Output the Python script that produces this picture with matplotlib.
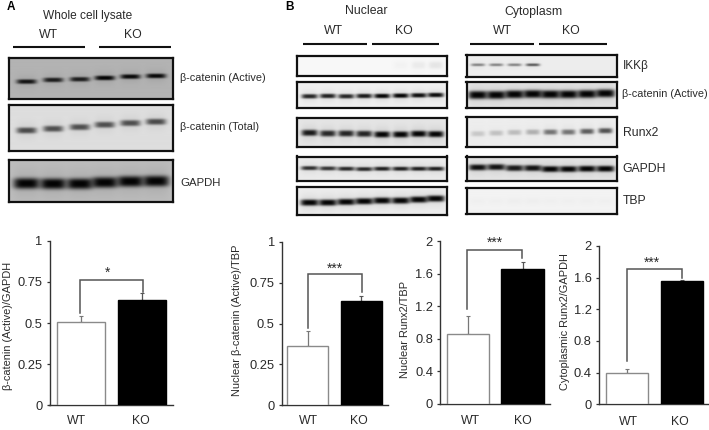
import numpy as np
import matplotlib
matplotlib.use("Agg")
import matplotlib.pyplot as plt

plt.rcParams['font.family'] = ['Liberation Sans', 'DejaVu Sans']
W, H = 709, 430
TXT = '#2a2a2a'

# ---------- bar chart data ----------
groups = ['WT', 'KO']
active_gapdh = [0.505, 0.64]
active_gapdh_err = [0.035, 0.04]
nuc_active_tbp = [0.365, 0.64]
nuc_active_tbp_err = [0.09, 0.03]
nuc_runx_tbp = [0.865, 1.665]
nuc_runx_tbp_err = [0.215, 0.075]
cyt_runx_gapdh = [0.39, 1.56]
cyt_runx_gapdh_err = [0.055, 0.015]
ticks_quarter = [0, 0.25, 0.5, 0.75, 1]
ticklabels_quarter = ['0', '0.25', '0.5', '0.75', '1']
ticks_runx = [0, 0.4, 0.8, 1.2, 1.6, 2]
ticklabels_runx = ['0', '0.4', '0.8', '1.2', '1.6', '2']

# ---------- blot band intensities (0 = none, 1 = black) ----------
a_active = [0.9, 0.85, 0.85, 1, 0.97, 0.97]
a_total = [0.66, 0.64, 0.64, 0.64, 0.64, 0.66]
a_gapdh = [1, 1, 1, 1, 1, 1]
n_ikk = [0, 0, 0, 0, 0, 0.02, 0.05, 0.07]
n_active = [0.85, 0.87, 0.85, 0.9, 1, 1, 0.95, 0.97]
n_runx = [0.9, 0.83, 0.85, 0.85, 1, 1, 1, 1]
n_gapdh = [0.8, 0.77, 0.83, 0.83, 0.87, 0.87, 0.87, 0.87]
n_tbp = [1, 1, 1, 1, 1, 1, 1, 1]
c_ikk = [0.42, 0.42, 0.42, 0.6, 0, 0, 0, 0]
c_active = [1, 1, 1, 1, 1, 1, 1, 1]
c_runx = [0.15, 0.18, 0.2, 0.25, 0.5, 0.5, 0.6, 0.65]
c_gapdh = [0.95, 0.93, 0.9, 0.93, 1, 1, 1, 1]
c_tbp = [0.01, 0.01, 0.015, 0.015, 0.01, 0.01, 0.01, 0.01]

fig = plt.figure(figsize=(W / 100, H / 100), dpi=100, facecolor='white')


def px_axes(l, t, r, b, **kw):
    return fig.add_axes([l / W, 1 - b / H, (r - l) / W, (b - t) / H], **kw)


over = px_axes(0, 0, W, H, zorder=5)
over.set_xlim(0, W)
over.set_ylim(H, 0)
over.axis('off')
over.patch.set_alpha(0)


def blot(box, strengths, lanes, rows, thick, width, bg, lw=1.6):
    l, t, r, b = box
    ax = px_axes(l, t, r, b)
    nx, ny = int((r - l) * 3), int((b - t) * 3)
    xs = np.linspace(l, r, nx)[None, :]
    ys = np.linspace(t, b, ny)[:, None]
    img = np.full((ny, nx), bg, dtype=float)
    for s, cx, cy in zip(strengths, lanes, rows):
        gx = np.exp(-np.abs((xs - cx) / (width / 2)) ** 4)
        gy = np.exp(-np.abs((ys - cy) / (thick * 0.6)) ** 3)
        hy = np.exp(-np.abs((ys - cy) / (thick * 1.6)) ** 2)
        img *= 1 - np.clip(s * gx * gy, 0, 1) * 0.98
        img *= 1 - 0.08 * s * gx * hy
    ax.imshow(img, cmap='gray', vmin=0, vmax=1, aspect='auto',
              extent=(l, r, b, t), interpolation='bilinear')
    ax.set_xticks([])
    ax.set_yticks([])
    for s in ax.spines.values():
        s.set_linewidth(lw)
        s.set_color('#111111')


def z(vals, off=0):
    return [off + v / 3 for v in vals]


# ---- Panel A blots ----
a_lanes = z([78, 158, 238, 313, 390, 467])
blot((8.5, 58, 172.5, 98.5), a_active, a_lanes, z([247, 242, 240, 236, 232, 230]), 3.8, 20, 0.70)
blot((8.5, 104.5, 172.5, 151), a_total, a_lanes, z([392, 387, 382, 375, 370, 366]), 5.0, 20, 0.87)
blot((8.5, 159.5, 172.5, 202), a_gapdh, a_lanes, z([551, 552, 552, 548, 545, 544]), 9.0, 26, 0.74)

# ---- Panel B blots ----
nl = z([72, 127, 182, 236, 290, 346, 400, 451], 285)
cl = z([577, 632, 687, 742, 795, 849, 905, 960], 285)
nx = (296.5, 446.5)
cx = (466.5, 616.5)
blot((nx[0], 55.5, nx[1], 75.5), n_ikk, nl, z([197] * 8), 6, 14, 0.97)
blot((nx[0], 82, nx[1], 108), n_active, nl, z([289, 288, 289, 288, 288, 287, 286, 285]), 3.8, 16, 0.94)
blot((nx[0], 117.5, nx[1], 146.5), n_runx, nl, z([400, 402, 402, 403, 405, 405, 403, 404]), 5.2, 16, 0.90)
blot((nx[0], 156.5, nx[1], 181), n_gapdh, nl, z([505, 506, 507, 508, 507, 507, 507, 507]), 3.4, 17, 0.92)
blot((nx[0], 187, nx[1], 214.5), n_tbp, nl, z([610, 610, 608, 606, 604, 604, 601, 598]), 5.2, 18, 0.93)

blot((cx[0], 54.5, cx[1], 76.5), c_ikk, cl, z([196] * 8), 2.4, 14, 0.93)
blot((cx[0], 82, cx[1], 108), c_active, cl, z([285, 285, 283, 282, 283, 283, 282, 280]), 6.8, 19, 0.90)
blot((cx[0], 116.5, cx[1], 147), c_runx, cl, z([402, 400, 398, 397, 397, 397, 395, 393]), 4.4, 14, 0.93)
blot((cx[0], 156.5, cx[1], 181), c_gapdh, cl, z([503, 502, 505, 505, 508, 508, 507, 507]), 5.0, 18, 0.90)
blot((cx[0], 187.5, cx[1], 214), c_tbp, cl, z([604] * 8), 5, 16, 0.95)

# ---- header lines and text ----
for x0, x1, y in [(12.7, 85, 46.7), (98.7, 171, 46.7),
                  (302.7, 366.7, 44), (371.7, 439.3, 44),
                  (470.3, 534.3, 44), (539.3, 606.7, 44)]:
    over.plot([x0, x1], [y, y], color='#111111', lw=1.5, solid_capstyle='butt')


def t(x, y, s, size=8.3, ha='center', va='center', **kw):
    over.text(x, y, s, fontsize=size, ha=ha, va=va, color=kw.pop('color', TXT), **kw)


t(10.5, 6.5, 'A', 8.5, weight='bold', color='black')
t(289.5, 7, 'B', 8.5, weight='bold', color='black')
t(88, 15.5, 'Whole cell lysate', 8.6)
t(48.5, 35, 'WT', 8.8)
t(132.5, 35, 'KO', 8.8)
t(366.5, 11.5, 'Nuclear', 8.8)
t(533.5, 11.5, 'Cytoplasm', 8.8)
t(333, 31.5, 'WT', 8.8)
t(404, 31.5, 'KO', 8.8)
t(502, 31.5, 'WT', 8.8)
t(571, 31.5, 'KO', 8.8)
for x, y, s, size in [(180, 78, 'β-catenin (Active)', 7.8), (180, 127, 'β-catenin (Total)', 7.8),
                      (180, 182.5, 'GAPDH', 8.2), (622.5, 66, 'IKKβ', 8.5),
                      (622.5, 94, 'β-catenin (Active)', 7.8), (622.5, 132.5, 'Runx2', 8.8),
                      (622.5, 168.5, 'GAPDH', 8.8), (622.5, 201, 'TBP', 8.8)]:
    t(x, y, s, size, ha='left')


# ---- bar charts ----
def bars(box, ymax, vals, errs, ticks, labels, ylabel, ylab_xy, edges, lab_x, lab_y,
         bracket, stars_xy, stars):
    l, t_, r, b = box
    ax = px_axes(l, t_, r, b)
    ax.set_xlim(l, r)
    ax.set_ylim(0, ymax)
    centers = [(edges[0] + edges[1]) / 2, (edges[2] + edges[3]) / 2]
    widths = [edges[1] - edges[0], edges[3] - edges[2]]
    ax.bar(centers, vals, widths, color=['white', 'black'],
           edgecolor=['#8a8a8a', 'black'], linewidth=1.0, zorder=3)
    ax.errorbar(centers[0], vals[0], yerr=[[0], [errs[0]]], color='#777777', lw=0.9,
                capsize=1.5, capthick=0.8, zorder=2)
    ax.errorbar(centers[1], vals[1], yerr=[[0], [errs[1]]], color='#555555', lw=0.9,
                capsize=1.5, capthick=0.8, zorder=2)
    yb, y0, y1, x0, x1 = bracket
    ax.plot([x0, x0, x1, x1], [y0, yb, yb, y1], color='#555555', lw=1.1, zorder=4,
            solid_joinstyle='miter')
    ax.set_xticks([])
    ax.set_yticks(ticks, labels)
    ax.tick_params(axis='y', length=2.5, width=0.9, color='#333333', pad=2.5,
                   labelsize=9.3, labelcolor=TXT)
    for s in ('top', 'right'):
        ax.spines[s].set_visible(False)
    for s in ('left', 'bottom'):
        ax.spines[s].set_linewidth(1.0)
        ax.spines[s].set_color('#333333')
    for x, g in zip(lab_x, groups):
        t(x, lab_y, g, 8.8)
    over.text(ylab_xy[0], ylab_xy[1], ylabel, rotation=90, fontsize=7.9, color=TXT,
              ha='center', va='center')
    over.text(stars_xy[0], stars_xy[1], stars, fontsize=10, color=TXT, ha='center', va='center')


bars((49.5, 240.7, 172.7, 405.3), 1, active_gapdh, active_gapdh_err, ticks_quarter,
     ticklabels_quarter, 'β-catenin (Active)/GAPDH', (8, 326), (57, 104.7, 118, 165.7),
     (76, 141), 421, (0.76, 0.56, 0.69, 80, 143), (108, 273), '*')
bars((281.7, 241.7, 388, 405.3), 1, nuc_active_tbp, nuc_active_tbp_err, ticks_quarter,
     ticklabels_quarter, 'Nuclear β-catenin (Active)/TBP', (237, 320),
     (287.3, 328.3, 340.7, 382), (308, 359), 421, (0.80, 0.47, 0.69, 308.3, 361.7), (335, 268.5), '***')
bars((440, 241.3, 550, 404), 2, nuc_runx_tbp, nuc_runx_tbp_err, ticks_runx,
     ticklabels_runx, 'Nuclear Runx2/TBP', (405, 329.5),
     (446.7, 488.7, 501.3, 543.7), (470, 522.7), 420.7, (1.89, 1.17, 1.79, 467.3, 522.3), (495, 243), '***')
bars((598.7, 246, 708.5, 404.3), 2, cyt_runx_gapdh, cyt_runx_gapdh_err, ticks_runx,
     ticklabels_runx, 'Cytoplasmic Runx2/GAPDH', (565, 321.7),
     (605.7, 648.3, 660.7, 702.7), (628, 680), 421.7, (1.71, 0.55, 1.6, 626.7, 682), (652, 262.5), '***')

fig.savefig('out.png', dpi=100)
